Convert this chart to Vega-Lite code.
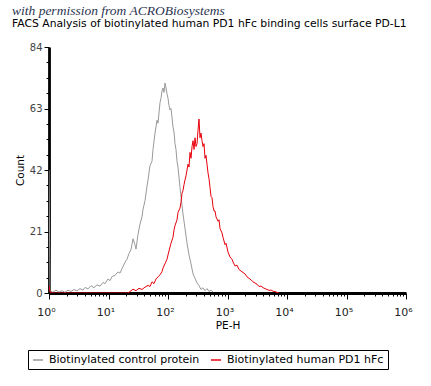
{
  "$schema": "https://vega.github.io/schema/vega-lite/v6.json",
  "width": 357,
  "height": 246,
  "autosize": {"type": "none"},
  "padding": {"left": 49, "top": 47, "right": 25, "bottom": 93},
  "background": "white",
  "title": {
    "text": "with permission from ACROBiosystems",
    "subtitle": "FACS Analysis of biotinylated human PD1 hFc binding cells surface PD-L1",
    "anchor": "start",
    "frame": "group",
    "dx": -37,
    "offset": 13,
    "font": "Liberation Serif",
    "fontStyle": "italic",
    "fontWeight": "normal",
    "fontSize": 13.5,
    "color": "#2b3550",
    "subtitleFont": "DejaVu Sans",
    "subtitleFontSize": 10.8,
    "subtitleColor": "black",
    "subtitlePadding": 1
  },
  "config": {
    "view": {"stroke": null},
    "axis": {
      "labelFont": "DejaVu Sans",
      "titleFont": "DejaVu Sans",
      "labelFontSize": 10,
      "titleFontSize": 10.5,
      "titleFontWeight": "normal",
      "labelColor": "#222222",
      "titleColor": "black",
      "domainColor": "black",
      "domainWidth": 2.8,
      "tickColor": "black",
      "tickWidth": 1,
      "grid": false
    },
    "legend": {
      "labelFont": "DejaVu Sans",
      "labelFontSize": 11,
      "labelColor": "black"
    }
  },
  "data": {
    "values": [
      {"series": "Biotinylated control protein", "pe": 1, "count": 42},
      {"series": "Biotinylated control protein", "pe": 1.039, "count": 0.7},
      {"series": "Biotinylated control protein", "pe": 1.167, "count": 0.3},
      {"series": "Biotinylated control protein", "pe": 1.311, "count": 1.0},
      {"series": "Biotinylated control protein", "pe": 1.473, "count": 0.3},
      {"series": "Biotinylated control protein", "pe": 1.654, "count": 0.8},
      {"series": "Biotinylated control protein", "pe": 1.857, "count": 0.2},
      {"series": "Biotinylated control protein", "pe": 2.086, "count": 1.0},
      {"series": "Biotinylated control protein", "pe": 2.343, "count": 0.5},
      {"series": "Biotinylated control protein", "pe": 2.632, "count": 1.2},
      {"series": "Biotinylated control protein", "pe": 2.956, "count": 0.7},
      {"series": "Biotinylated control protein", "pe": 3.32, "count": 1.5},
      {"series": "Biotinylated control protein", "pe": 3.728, "count": 1.0},
      {"series": "Biotinylated control protein", "pe": 4.028, "count": 1.9},
      {"series": "Biotinylated control protein", "pe": 4.524, "count": 1.4},
      {"series": "Biotinylated control protein", "pe": 5.081, "count": 2.5},
      {"series": "Biotinylated control protein", "pe": 5.706, "count": 1.8},
      {"series": "Biotinylated control protein", "pe": 6.409, "count": 2.8},
      {"series": "Biotinylated control protein", "pe": 7.197, "count": 2.3},
      {"series": "Biotinylated control protein", "pe": 8.084, "count": 3.6},
      {"series": "Biotinylated control protein", "pe": 8.736, "count": 3.2},
      {"series": "Biotinylated control protein", "pe": 9.808, "count": 4.8},
      {"series": "Biotinylated control protein", "pe": 10.6, "count": 4.2},
      {"series": "Biotinylated control protein", "pe": 11.45, "count": 5.6},
      {"series": "Biotinylated control protein", "pe": 12.86, "count": 6.0},
      {"series": "Biotinylated control protein", "pe": 14.44, "count": 7.2},
      {"series": "Biotinylated control protein", "pe": 15.61, "count": 6.8},
      {"series": "Biotinylated control protein", "pe": 16.86, "count": 8.3},
      {"series": "Biotinylated control protein", "pe": 18.94, "count": 10.5},
      {"series": "Biotinylated control protein", "pe": 20.46, "count": 11.5},
      {"series": "Biotinylated control protein", "pe": 22.11, "count": 13.5},
      {"series": "Biotinylated control protein", "pe": 23.88, "count": 14.8},
      {"series": "Biotinylated control protein", "pe": 25.81, "count": 18.5},
      {"series": "Biotinylated control protein", "pe": 27.88, "count": 16.5},
      {"series": "Biotinylated control protein", "pe": 28.99, "count": 15.0},
      {"series": "Biotinylated control protein", "pe": 31.32, "count": 20},
      {"series": "Biotinylated control protein", "pe": 33.83, "count": 23.5},
      {"series": "Biotinylated control protein", "pe": 36.56, "count": 26},
      {"series": "Biotinylated control protein", "pe": 38.0, "count": 28.5},
      {"series": "Biotinylated control protein", "pe": 41.06, "count": 31.5},
      {"series": "Biotinylated control protein", "pe": 44.37, "count": 36.5},
      {"series": "Biotinylated control protein", "pe": 46.12, "count": 38.6},
      {"series": "Biotinylated control protein", "pe": 49.83, "count": 43.5},
      {"series": "Biotinylated control protein", "pe": 53.84, "count": 45},
      {"series": "Biotinylated control protein", "pe": 55.97, "count": 49},
      {"series": "Biotinylated control protein", "pe": 60.47, "count": 54.6},
      {"series": "Biotinylated control protein", "pe": 62.86, "count": 56.7},
      {"series": "Biotinylated control protein", "pe": 65.34, "count": 59},
      {"series": "Biotinylated control protein", "pe": 67.92, "count": 58},
      {"series": "Biotinylated control protein", "pe": 73.38, "count": 65},
      {"series": "Biotinylated control protein", "pe": 76.28, "count": 66.5},
      {"series": "Biotinylated control protein", "pe": 79.29, "count": 69},
      {"series": "Biotinylated control protein", "pe": 82.42, "count": 70},
      {"series": "Biotinylated control protein", "pe": 85.67, "count": 68.5},
      {"series": "Biotinylated control protein", "pe": 89.05, "count": 71.7},
      {"series": "Biotinylated control protein", "pe": 92.56, "count": 70},
      {"series": "Biotinylated control protein", "pe": 96.21, "count": 68},
      {"series": "Biotinylated control protein", "pe": 100, "count": 66.5},
      {"series": "Biotinylated control protein", "pe": 103.9, "count": 64},
      {"series": "Biotinylated control protein", "pe": 108.0, "count": 62.5},
      {"series": "Biotinylated control protein", "pe": 112.3, "count": 63},
      {"series": "Biotinylated control protein", "pe": 116.7, "count": 60},
      {"series": "Biotinylated control protein", "pe": 121.3, "count": 56.7},
      {"series": "Biotinylated control protein", "pe": 126.1, "count": 55},
      {"series": "Biotinylated control protein", "pe": 131.1, "count": 51},
      {"series": "Biotinylated control protein", "pe": 136.3, "count": 49},
      {"series": "Biotinylated control protein", "pe": 141.7, "count": 45},
      {"series": "Biotinylated control protein", "pe": 147.3, "count": 43},
      {"series": "Biotinylated control protein", "pe": 159.1, "count": 36},
      {"series": "Biotinylated control protein", "pe": 165.4, "count": 33},
      {"series": "Biotinylated control protein", "pe": 178.7, "count": 27},
      {"series": "Biotinylated control protein", "pe": 193.1, "count": 22},
      {"series": "Biotinylated control protein", "pe": 208.7, "count": 17},
      {"series": "Biotinylated control protein", "pe": 225.5, "count": 13},
      {"series": "Biotinylated control protein", "pe": 243.6, "count": 10},
      {"series": "Biotinylated control protein", "pe": 263.3, "count": 6.5},
      {"series": "Biotinylated control protein", "pe": 284.5, "count": 5},
      {"series": "Biotinylated control protein", "pe": 307.4, "count": 3.4},
      {"series": "Biotinylated control protein", "pe": 332.1, "count": 2.5},
      {"series": "Biotinylated control protein", "pe": 358.8, "count": 1.2},
      {"series": "Biotinylated control protein", "pe": 387.7, "count": 1.8},
      {"series": "Biotinylated control protein", "pe": 418.9, "count": 0.8},
      {"series": "Biotinylated control protein", "pe": 452.6, "count": 1.5},
      {"series": "Biotinylated control protein", "pe": 489.1, "count": 0.5},
      {"series": "Biotinylated control protein", "pe": 528.4, "count": 1.0},
      {"series": "Biotinylated control protein", "pe": 570.9, "count": 0.3},
      {"series": "Biotinylated human PD1 hFc", "pe": 1, "count": 2.5},
      {"series": "Biotinylated human PD1 hFc", "pe": 1.039, "count": 0.3},
      {"series": "Biotinylated human PD1 hFc", "pe": 1.123, "count": 0},
      {"series": "Biotinylated human PD1 hFc", "pe": 21.27, "count": 0},
      {"series": "Biotinylated human PD1 hFc", "pe": 22.98, "count": 0.5},
      {"series": "Biotinylated human PD1 hFc", "pe": 25.81, "count": 1.3},
      {"series": "Biotinylated human PD1 hFc", "pe": 28.99, "count": 0.8},
      {"series": "Biotinylated human PD1 hFc", "pe": 32.56, "count": 1.6},
      {"series": "Biotinylated human PD1 hFc", "pe": 36.56, "count": 1.2},
      {"series": "Biotinylated human PD1 hFc", "pe": 41.06, "count": 2.0},
      {"series": "Biotinylated human PD1 hFc", "pe": 46.12, "count": 2.6},
      {"series": "Biotinylated human PD1 hFc", "pe": 49.83, "count": 2.2},
      {"series": "Biotinylated human PD1 hFc", "pe": 53.84, "count": 3.8},
      {"series": "Biotinylated human PD1 hFc", "pe": 58.18, "count": 3.2},
      {"series": "Biotinylated human PD1 hFc", "pe": 62.86, "count": 4.8},
      {"series": "Biotinylated human PD1 hFc", "pe": 67.92, "count": 5.5},
      {"series": "Biotinylated human PD1 hFc", "pe": 73.38, "count": 6.2},
      {"series": "Biotinylated human PD1 hFc", "pe": 79.29, "count": 7.3},
      {"series": "Biotinylated human PD1 hFc", "pe": 82.42, "count": 8.5},
      {"series": "Biotinylated human PD1 hFc", "pe": 89.05, "count": 10},
      {"series": "Biotinylated human PD1 hFc", "pe": 96.21, "count": 11.5},
      {"series": "Biotinylated human PD1 hFc", "pe": 100, "count": 13},
      {"series": "Biotinylated human PD1 hFc", "pe": 108.0, "count": 15.7},
      {"series": "Biotinylated human PD1 hFc", "pe": 112.3, "count": 17},
      {"series": "Biotinylated human PD1 hFc", "pe": 121.3, "count": 19},
      {"series": "Biotinylated human PD1 hFc", "pe": 126.1, "count": 21.5},
      {"series": "Biotinylated human PD1 hFc", "pe": 131.1, "count": 23},
      {"series": "Biotinylated human PD1 hFc", "pe": 141.7, "count": 25},
      {"series": "Biotinylated human PD1 hFc", "pe": 147.3, "count": 27.5},
      {"series": "Biotinylated human PD1 hFc", "pe": 159.1, "count": 29},
      {"series": "Biotinylated human PD1 hFc", "pe": 165.4, "count": 31},
      {"series": "Biotinylated human PD1 hFc", "pe": 171.9, "count": 34},
      {"series": "Biotinylated human PD1 hFc", "pe": 178.7, "count": 35},
      {"series": "Biotinylated human PD1 hFc", "pe": 185.8, "count": 37},
      {"series": "Biotinylated human PD1 hFc", "pe": 193.1, "count": 38.6},
      {"series": "Biotinylated human PD1 hFc", "pe": 200.7, "count": 40},
      {"series": "Biotinylated human PD1 hFc", "pe": 208.7, "count": 42},
      {"series": "Biotinylated human PD1 hFc", "pe": 216.9, "count": 44},
      {"series": "Biotinylated human PD1 hFc", "pe": 225.5, "count": 43},
      {"series": "Biotinylated human PD1 hFc", "pe": 234.4, "count": 48},
      {"series": "Biotinylated human PD1 hFc", "pe": 243.6, "count": 46},
      {"series": "Biotinylated human PD1 hFc", "pe": 253.3, "count": 50},
      {"series": "Biotinylated human PD1 hFc", "pe": 263.3, "count": 52},
      {"series": "Biotinylated human PD1 hFc", "pe": 273.7, "count": 49},
      {"series": "Biotinylated human PD1 hFc", "pe": 284.5, "count": 53},
      {"series": "Biotinylated human PD1 hFc", "pe": 295.7, "count": 50},
      {"series": "Biotinylated human PD1 hFc", "pe": 307.4, "count": 51},
      {"series": "Biotinylated human PD1 hFc", "pe": 319.5, "count": 55.6},
      {"series": "Biotinylated human PD1 hFc", "pe": 332.1, "count": 59.4},
      {"series": "Biotinylated human PD1 hFc", "pe": 345.2, "count": 53},
      {"series": "Biotinylated human PD1 hFc", "pe": 358.8, "count": 54.6},
      {"series": "Biotinylated human PD1 hFc", "pe": 373.0, "count": 52},
      {"series": "Biotinylated human PD1 hFc", "pe": 387.7, "count": 50},
      {"series": "Biotinylated human PD1 hFc", "pe": 403.0, "count": 51},
      {"series": "Biotinylated human PD1 hFc", "pe": 418.9, "count": 46},
      {"series": "Biotinylated human PD1 hFc", "pe": 435.4, "count": 47},
      {"series": "Biotinylated human PD1 hFc", "pe": 452.6, "count": 44},
      {"series": "Biotinylated human PD1 hFc", "pe": 470.5, "count": 41},
      {"series": "Biotinylated human PD1 hFc", "pe": 489.1, "count": 39},
      {"series": "Biotinylated human PD1 hFc", "pe": 508.4, "count": 36},
      {"series": "Biotinylated human PD1 hFc", "pe": 528.4, "count": 33},
      {"series": "Biotinylated human PD1 hFc", "pe": 549.3, "count": 32.5},
      {"series": "Biotinylated human PD1 hFc", "pe": 570.9, "count": 29.5},
      {"series": "Biotinylated human PD1 hFc", "pe": 593.5, "count": 28},
      {"series": "Biotinylated human PD1 hFc", "pe": 616.9, "count": 28},
      {"series": "Biotinylated human PD1 hFc", "pe": 641.2, "count": 26},
      {"series": "Biotinylated human PD1 hFc", "pe": 692.8, "count": 24.5},
      {"series": "Biotinylated human PD1 hFc", "pe": 720.2, "count": 25},
      {"series": "Biotinylated human PD1 hFc", "pe": 748.6, "count": 22},
      {"series": "Biotinylated human PD1 hFc", "pe": 808.9, "count": 20.5},
      {"series": "Biotinylated human PD1 hFc", "pe": 840.8, "count": 19},
      {"series": "Biotinylated human PD1 hFc", "pe": 908.5, "count": 16.5},
      {"series": "Biotinylated human PD1 hFc", "pe": 944.4, "count": 17},
      {"series": "Biotinylated human PD1 hFc", "pe": 1020, "count": 14},
      {"series": "Biotinylated human PD1 hFc", "pe": 1102, "count": 12.3},
      {"series": "Biotinylated human PD1 hFc", "pe": 1191, "count": 11.5},
      {"series": "Biotinylated human PD1 hFc", "pe": 1238, "count": 10.6},
      {"series": "Biotinylated human PD1 hFc", "pe": 1338, "count": 9.2},
      {"series": "Biotinylated human PD1 hFc", "pe": 1446, "count": 9.5},
      {"series": "Biotinylated human PD1 hFc", "pe": 1562, "count": 8},
      {"series": "Biotinylated human PD1 hFc", "pe": 1688, "count": 7.5},
      {"series": "Biotinylated human PD1 hFc", "pe": 1824, "count": 7},
      {"series": "Biotinylated human PD1 hFc", "pe": 1971, "count": 6.5},
      {"series": "Biotinylated human PD1 hFc", "pe": 2130, "count": 5.5},
      {"series": "Biotinylated human PD1 hFc", "pe": 2301, "count": 5},
      {"series": "Biotinylated human PD1 hFc", "pe": 2487, "count": 4.5},
      {"series": "Biotinylated human PD1 hFc", "pe": 2687, "count": 3.8},
      {"series": "Biotinylated human PD1 hFc", "pe": 2903, "count": 3.4},
      {"series": "Biotinylated human PD1 hFc", "pe": 3137, "count": 3},
      {"series": "Biotinylated human PD1 hFc", "pe": 3390, "count": 2.2},
      {"series": "Biotinylated human PD1 hFc", "pe": 3663, "count": 2.4},
      {"series": "Biotinylated human PD1 hFc", "pe": 3958, "count": 1.8},
      {"series": "Biotinylated human PD1 hFc", "pe": 4277, "count": 1.5},
      {"series": "Biotinylated human PD1 hFc", "pe": 4621, "count": 1.2},
      {"series": "Biotinylated human PD1 hFc", "pe": 4993, "count": 0.9},
      {"series": "Biotinylated human PD1 hFc", "pe": 5395, "count": 1.0},
      {"series": "Biotinylated human PD1 hFc", "pe": 5830, "count": 0.6},
      {"series": "Biotinylated human PD1 hFc", "pe": 6299, "count": 0.5},
      {"series": "Biotinylated human PD1 hFc", "pe": 6807, "count": 0.2},
      {"series": "Biotinylated human PD1 hFc", "pe": 7355, "count": 0}
    ]
  },
  "mark": {"type": "line", "strokeWidth": 1, "interpolate": "linear", "clip": true},
  "encoding": {
    "x": {
      "field": "pe",
      "type": "quantitative",
      "title": "PE-H",
      "scale": {"type": "log", "domain": [1, 1000000], "nice": false},
      "axis": {
        "values": [1,2,3,4,5,6,7,8,9,10,20,30,40,50,60,70,80,90,100,200,300,400,500,600,700,800,900,1000,2000,3000,4000,5000,6000,7000,8000,9000,10000,20000,30000,40000,50000,60000,70000,80000,90000,100000,200000,300000,400000,500000,600000,700000,800000,900000,1000000],
        "labelExpr": "abs(log(datum.value)/LN10 - round(log(datum.value)/LN10)) < 0.000001 ? '10' + ['⁰','¹','²','³','⁴','⁵','⁶'][round(log(datum.value)/LN10)] : ''",
        "tickSize": {"condition": {"test": "abs(log(datum.value)/LN10 - round(log(datum.value)/LN10)) < 0.000001", "value": 6}, "value": 3},
        "labelFontSize": 11,
        "labelPadding": 7,
        "labelOffset": -3,
        "titlePadding": 3,
        "labelFlush": false,
        "labelOverlap": false
      }
    },
    "y": {
      "field": "count",
      "type": "quantitative",
      "title": "Count",
      "scale": {"domain": [0, 84], "nice": false},
      "axis": {
        "values": [0,5.25,10.5,15.75,21,26.25,31.5,36.75,42,47.25,52.5,57.75,63,68.25,73.5,78.75,84],
        "labelExpr": "datum.value % 21 == 0 ? datum.label : ''",
        "tickSize": {"condition": {"test": "datum.value % 21 == 0", "value": 5}, "value": 3},
        "labelColor": "#444444",
        "labelPadding": 2,
        "titlePadding": 4,
        "labelFlush": false,
        "labelOverlap": false
      }
    },
    "color": {
      "field": "series",
      "type": "nominal",
      "scale": {
        "domain": ["Biotinylated control protein", "Biotinylated human PD1 hFc"],
        "range": ["#999999", "#e8000b"]
      },
      "legend": {
        "title": null,
        "orient": "none",
        "legendX": -21,
        "legendY": 303,
        "direction": "horizontal",
        "strokeColor": "black",
        "padding": 4,
        "symbolType": "stroke",
        "symbolSize": 100,
        "symbolStrokeWidth": 1.5,
        "columnPadding": 8,
        "labelOffset": 5
      }
    }
  }
}
